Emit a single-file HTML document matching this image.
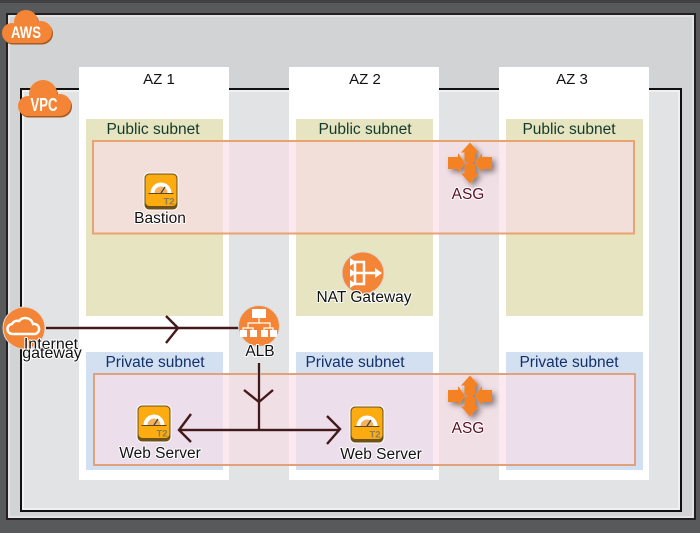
<!DOCTYPE html>
<html><head><meta charset="utf-8"><style>
html,body{margin:0;padding:0;background:#58595b}
svg{display:block}
text{font-family:"Liberation Sans",sans-serif;font-size:15.500px;text-anchor:middle;fill:#111}
</style></head><body>
<svg width="700" height="533" viewBox="0 0 700 533" xmlns="http://www.w3.org/2000/svg">
<defs>
<filter id="sh" x="-30%" y="-30%" width="170%" height="170%"><feDropShadow dx="3" dy="3" stdDeviation="3" flood-color="#000" flood-opacity=".45"/></filter>
<g id="t2">
<rect x="-17.500" y="-17.500" width="35" height="38" rx="5.500" fill="#fff"/>
<rect x="-16.500" y="-16.500" width="33" height="36" rx="4.500" fill="#6e5218"/>
<rect x="-15.500" y="-15.500" width="31" height="31.500" rx="4" fill="#fcab10"/>
<path d="M-10.500 3a10.500 10.500 0 0 1 21 0z" fill="#fff"/>
<path d="M-6.500 3a6.500 6.500 0 0 1 13 0z" fill="#f4b25d"/>
<path d="M-12.500 3.500H12.500" stroke="#5b4a2a" stroke-width="1"/>
<path d="M0 3L4 -3" stroke="#444" stroke-width="1.300"/>
<text x="8" y="14.500" style="font-size:9.500px;font-weight:bold;fill:#8a7d5e">T2</text>
</g>
<g id="asg" fill="#f58220">
<path d="M0-20.500L-9-10.500H-5.500V-2L0 1L5.500-2V-10.500H9Z"/>
<path d="M0 20.500L-9 10.500H-5.500V2L0-1L5.500 2V10.500H9Z"/>
<path d="M-5 0L-12-10V-6H-22V6H-12V10Z"/>
<path d="M5 0L12-10V-6H22V6H12V10Z"/>
</g>
</defs>

<rect x="0" y="0" width="700" height="533" fill="#58595b"/>
<rect x="0" y="0" width="700" height="3" fill="#414042"/>
<rect x="7" y="14" width="688" height="505" fill="#d1d3d4" stroke="#231f20" stroke-width="2"/>
<rect x="9" y="16" width="684" height="501" fill="none" stroke="#f1f2f2" stroke-width="1"/>

<rect x="21" y="89" width="660" height="422" fill="#e2e3e5" stroke="#111" stroke-width="2"/>
<rect x="23" y="91" width="656" height="418" fill="none" stroke="#fff" stroke-width="1"/>

<rect x="79" y="67" width="150" height="413" fill="#fff"/>
<rect x="289" y="67" width="150" height="413" fill="#fff"/>
<rect x="499" y="67" width="150" height="413" fill="#fff"/>

<g fill="#e6e4c1">
<rect x="86" y="119" width="137" height="197"/><rect x="296" y="119" width="137" height="197"/><rect x="506" y="119" width="137" height="197"/>
</g>
<g fill="#d3e0f1">
<rect x="86" y="352" width="137" height="118"/><rect x="296" y="352" width="137" height="118"/><rect x="506" y="352" width="137" height="118"/>
</g>

<rect x="93" y="141" width="541" height="92.500" fill="#fadce8" fill-opacity=".63" stroke="#e8a36f" stroke-width="2"/>
<rect x="94" y="374" width="541" height="91" fill="#fadce8" fill-opacity=".63" stroke="#e0a27a" stroke-width="2"/>

<text x="159" y="84" style="font-size:15px">AZ 1</text>
<text x="365" y="84" style="font-size:15px">AZ 2</text>
<text x="572" y="84" style="font-size:15px">AZ 3</text>
<text x="153" y="134" style="fill:#123a2a">Public subnet</text>
<text x="365" y="134" style="fill:#123a2a">Public subnet</text>
<text x="569" y="134" style="fill:#123a2a">Public subnet</text>
<text x="155" y="367" style="fill:#12316b">Private subnet</text>
<text x="355" y="367" style="fill:#12316b">Private subnet</text>
<text x="569" y="367" style="fill:#12316b">Private subnet</text>

<!-- connectors -->
<g fill="none" stroke="#fff" stroke-opacity=".5" stroke-width="4">
<path d="M46 328H240"/><path d="M259 363V430"/><path d="M180 430H340"/>
</g>
<g fill="none" stroke="#43191b" stroke-width="2.400">
<path d="M46 328H240"/>
<path d="M166 316L178 328L166 343"/>
<path d="M259 363V430"/>
<path d="M244 390L259 402L273 390"/>
<path d="M180 430H340"/>
<path d="M191 414L179 430L191 442"/>
<path d="M327 416L340 429L327 444"/>
</g>

<!-- icons -->
<use href="#t2" x="161" y="190"/>
<use href="#t2" x="154" y="422"/>
<use href="#t2" x="367" y="423"/>
<use href="#asg" x="470" y="163" filter="url(#sh)"/>
<use href="#asg" x="470" y="396" filter="url(#sh)"/>

<!-- NAT -->
<circle cx="363" cy="273" r="21" fill="#f58536" stroke="#d9d9d9" stroke-width="1"/>
<path d="M351 262H364V284H351M351 273H379M355 262V284" fill="none" stroke="#fff" stroke-width="2.500"/>
<path d="M350 258l6 4l-6 4zM350 269l6 4l-6 4zM350 280l6 4l-6 4zM375 268l7 5l-7 5z" fill="#fff"/>

<!-- ALB -->
<circle cx="259" cy="326" r="20.500" fill="#f58536" stroke="#d9d9d9" stroke-width="1"/>
<g fill="#fff">
<rect x="252" y="309" width="14" height="9"/>
<rect x="240" y="330" width="7" height="7"/><rect x="250" y="330" width="7" height="7"/><rect x="261" y="330" width="7" height="7"/><rect x="270" y="330" width="7" height="7"/>
</g>
<path d="M259 318V323M248 328V323H270V328M243 331V328H253V331M264 331V328H273V331" fill="none" stroke="#fff" stroke-width="1.200"/>

<!-- IGW -->
<circle cx="24" cy="328" r="21" fill="#f58536" stroke="#d9d9d9" stroke-width="1"/>
<path d="M13 334a5 5 0 0 1 -1-10a6 6 0 0 1 7-3a8 8 0 0 1 14 3a5 5 0 0 1 2 10z" fill="none" stroke="#fff" stroke-width="2.500"/>

<!-- clouds -->
<g fill="#a65a24" transform="translate(1 1.500)">
<circle cx="12" cy="33" r="10"/><circle cx="26" cy="22" r="12"/><circle cx="41" cy="32" r="11"/><rect x="12" y="28" width="30" height="15"/>
<circle cx="28" cy="106" r="10"/><circle cx="43" cy="94" r="14"/><circle cx="60" cy="105" r="11"/><rect x="28" y="100" width="32" height="16"/>
</g>
<g fill="#f58536">
<circle cx="12" cy="33" r="10"/><circle cx="26" cy="22" r="12"/><circle cx="41" cy="32" r="11"/><rect x="12" y="28" width="30" height="15"/>
<circle cx="28" cy="106" r="10"/><circle cx="43" cy="94" r="14"/><circle cx="60" cy="105" r="11"/><rect x="28" y="100" width="32" height="16"/>
</g>
<text x="26" y="38" textLength="30" lengthAdjust="spacingAndGlyphs" style="fill:#fff;font-size:17px;font-weight:bold">AWS</text>
<text x="44" y="111" textLength="27" lengthAdjust="spacingAndGlyphs" style="fill:#fff;font-size:18px;font-weight:bold">VPC</text>

<!-- labels -->
<g stroke="#fff" stroke-width="2" paint-order="stroke" stroke-linejoin="round">
<text x="160" y="223">Bastion</text>
<text x="364" y="302">NAT Gateway</text>
<text x="260" y="356">ALB</text>
<text x="51" y="349" style="font-size:16px">Internet</text>
<text x="52" y="358" style="font-size:16px">gateway</text>
<text x="160" y="458">Web Server</text>
<text x="381" y="459">Web Server</text>
<text x="468" y="199" style="fill:#5b0f23">ASG</text>
<text x="468" y="433" style="fill:#5b0f23">ASG</text>
</g>
</svg>
</body></html>
